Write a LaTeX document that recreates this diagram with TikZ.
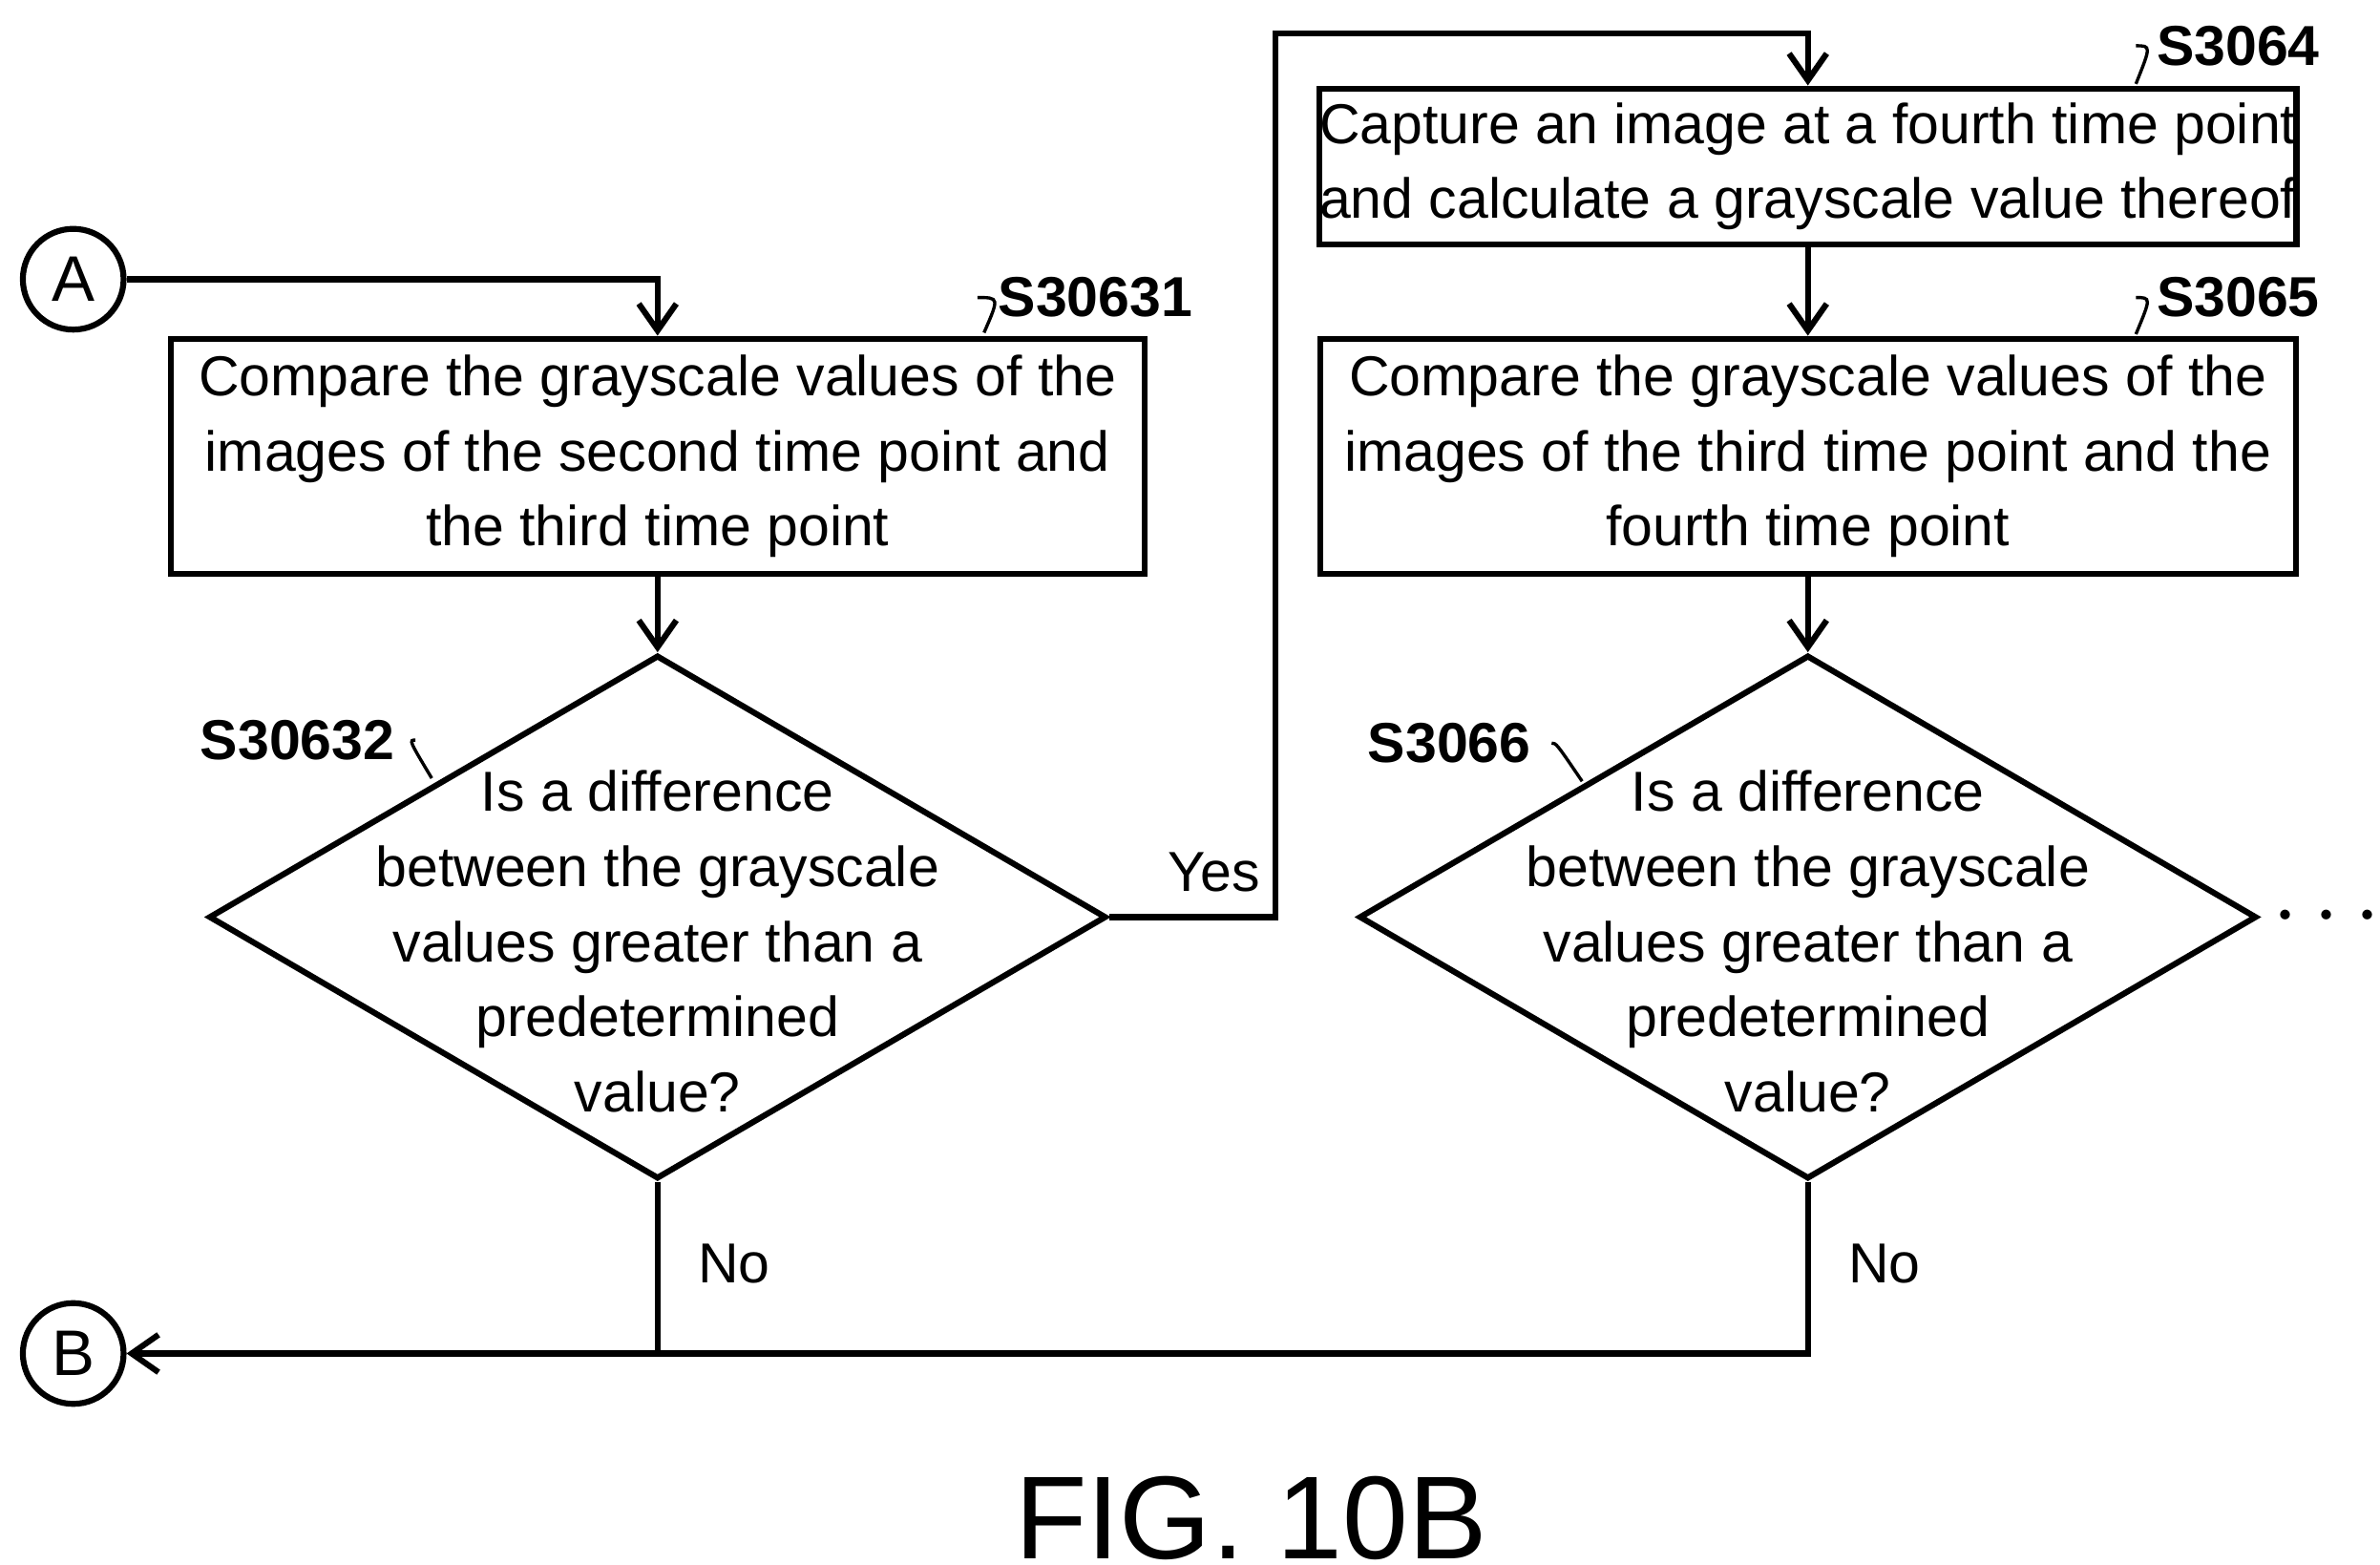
\documentclass[tikz,border=0pt]{standalone}
\usepackage{fontspec}
\setmainfont{Liberation Sans}
\usetikzlibrary{shapes.geometric,arrows.meta}
\begin{document}
\begin{tikzpicture}[x=0.01cm,y=-0.01cm,line width=1.1pt,
	box/.style={draw, rectangle, inner sep=0pt, align=center, font=\fontsize{10.5}{14}\selectfont},
	dec/.style={draw, diamond, inner sep=0pt, minimum width=5.88cm, minimum height=3.43cm},
	dectext/.style={align=center, font=\fontsize{10.5}{14}\selectfont},
	conn/.style={draw, circle, minimum size=0.66cm, inner sep=0pt, font=\fontsize{12}{14}\selectfont},
	tag/.style={font=\fontsize{10.5}{12}\selectfont\bfseries},
	arr/.style={-{Straight Barb[length=5pt,width=7pt]}}]
\useasboundingbox (0,0) rectangle (1560,1025);

\node[conn] at (48,183) (A) {A};
\node[conn] at (48,887) (B) {B};

\node[box, minimum width=6.38cm, minimum height=1.54cm] at (431,299) (s30631) {Compare the grayscale values of the\\images of the second time point and\\the third time point};
\node[dec] at (431,601) (s30632) {};
\node[dectext] at (431,617) (t30632) {Is a difference\\between the grayscale\\values greater than a\\predetermined\\value?};

\node[box, minimum width=6.39cm, minimum height=1.02cm] at (1185,109) (s3064) {Capture an image at a fourth time point\\and calculate a grayscale value thereof};
\node[box, minimum width=6.39cm, minimum height=1.54cm] at (1185,299) (s3065) {Compare the grayscale values of the\\images of the third time point and the\\fourth time point};
\node[dec] at (1185,601) (s3066) {};
\node[dectext] at (1185,617) (t3066) {Is a difference\\between the grayscale\\values greater than a\\predetermined\\value?};

\node[font=\fontsize{16}{16}\selectfont] at (1525,601) (dots) {$\cdots$};
\node[font=\fontsize{22}{22}\selectfont] at (820,995) (fig) {FIG. 10B};

% step labels
\node[tag] at (718,195) (l30631) {S30631};
\node[tag] at (195,485) (l30632) {S30632};
\node[tag] at (1467,30) (l3064) {S3064};
\node[tag] at (1467,195) (l3065) {S3065};
\node[tag] at (950,487) (l3066) {S3066};
\draw[line width=0.6pt] (l30631.west) .. controls (655,195) .. (645,218);
\draw[line width=0.6pt] (l30632.east) .. controls (268,485) .. (283,510);
\draw[line width=0.6pt] (l3064.west) .. controls (1410,30) .. (1400,55);
\draw[line width=0.6pt] (l3065.west) .. controls (1410,195) .. (1400,219);
\draw[line width=0.6pt] (l3066.east) .. controls (1020,487) .. (1037,512);

% connectors
\draw[arr] (A.east) -| (s30631.north);
\draw[arr] (s30631.south) -- (s30632.north);
\draw[arr] (s30632.east) -- (836,601) |- (1185,22) -- (s3064.north);
\node[dectext, anchor=south west] at (752,598) (yes) {Yes};
\draw[arr] (s3064.south) -- (s3065.north);
\draw[arr] (s3065.south) -- (s3066.north);
\draw (s30632.south) -- (431,887);
\draw[arr] (s3066.south) |- (B.east);
\node[dectext, anchor=west] at (444,828) (no1) {No};
\node[dectext, anchor=west] at (1198,828) (no2) {No};
\end{tikzpicture}
\end{document}
